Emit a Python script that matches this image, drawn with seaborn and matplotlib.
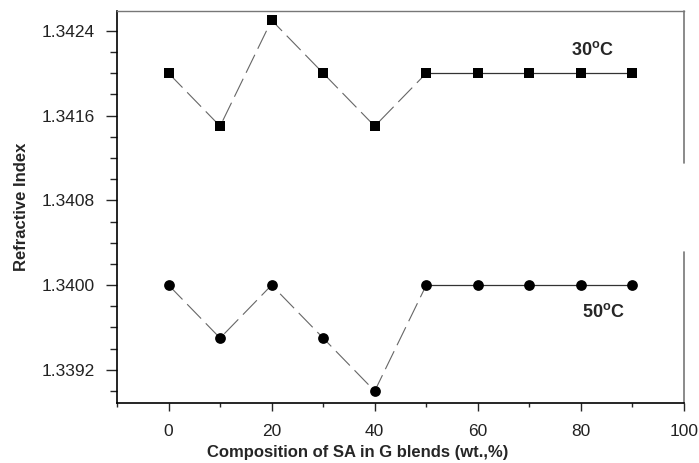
#!/usr/bin/env python3
"""
Script to plot refractive index of SA/G blends at two temperatures
"""

import numpy as np
import pandas as pd
import matplotlib
matplotlib.use('Agg')
import matplotlib.pyplot as plt
from matplotlib.ticker import MultipleLocator
import seaborn as sns

# Chart data
composition = [0, 10, 20, 30, 40, 50, 60, 70, 80, 90]
ri_30 = [1.3420, 1.3415, 1.3425, 1.3420, 1.3415, 1.3420, 1.3420, 1.3420, 1.3420, 1.3420]
ri_50 = [1.3400, 1.3395, 1.3400, 1.3395, 1.3390, 1.3400, 1.3400, 1.3400, 1.3400, 1.3400]
temperatures = ['30', '50']
y_ticks = [1.3392, 1.3400, 1.3408, 1.3416, 1.3424]
x_ticks = [0, 20, 40, 60, 80, 100]

# Build long-form table for seaborn
df = pd.concat([
    pd.DataFrame({'composition': composition, 'ri': ri_30, 'temp': '30'}),
    pd.DataFrame({'composition': composition, 'ri': ri_50, 'temp': '50'}),
], ignore_index=True)

sns.set_style('ticks')
plt.rcParams['font.family'] = ['Liberation Sans', 'DejaVu Sans']
plt.rcParams['mathtext.fontset'] = 'custom'
plt.rcParams['mathtext.rm'] = 'Liberation Sans'
plt.rcParams['mathtext.bf'] = 'Liberation Sans:bold'

fig = plt.figure(figsize=(6.99, 4.63), dpi=100)
ax = fig.add_axes([0.1674, 0.1302, 0.8111, 0.8467])

markers = {'30': 's', '50': 'o'}
msizes = {'30': 42, '50': 60}

for t in temperatures:
    sub = df[df['temp'] == t]
    # first part of the curve is drawn with a broken line
    sns.lineplot(data=sub[sub['composition'] <= 50], x='composition', y='ri',
                 color='#666666', lw=0.8, ax=ax, legend=False,
                 linestyle=(0, (18, 6)))
    # plateau part is a solid line
    sns.lineplot(data=sub[sub['composition'] >= 50], x='composition', y='ri',
                 color='#333333', lw=0.9, ax=ax, legend=False)
    sns.scatterplot(data=sub, x='composition', y='ri', marker=markers[t],
                    s=msizes[t], color='black', edgecolor='black',
                    linewidth=0, ax=ax, legend=False, zorder=5)

# Axis limits and ticks
ax.set_xlim(-10, 100)
ax.set_ylim(1.33889, 1.34259)
ax.set_xticks(x_ticks)
ax.xaxis.set_minor_locator(MultipleLocator(10))
ax.set_yticks(y_ticks)
ax.set_yticklabels([f'{v:.4f}' for v in y_ticks])
ax.yaxis.set_minor_locator(MultipleLocator(0.0002))
ax.tick_params(axis='y', which='major', length=8, width=1, pad=8, labelsize=12.5,
               labelcolor='#222222')
ax.tick_params(axis='y', which='minor', length=5, width=1)
ax.tick_params(axis='x', which='major', length=6, width=1, pad=9, labelsize=12.5,
               labelcolor='#222222')
ax.tick_params(axis='x', which='minor', length=3, width=1)

# Spines: left/bottom black, top grey, right broken grey
for side in ['left', 'bottom']:
    ax.spines[side].set_color('black')
    ax.spines[side].set_linewidth(1.2)
ax.spines['top'].set_color('#777777')
ax.spines['top'].set_linewidth(1.0)
ax.spines['right'].set_visible(False)
ax.axvline(100, ymin=0.611, ymax=1.0, color='#777777', lw=1.2, clip_on=False)
ax.axvline(100, ymin=0.0, ymax=0.384, color='#777777', lw=1.2, clip_on=False)

# Labels
ax.set_xlabel('')
ax.set_ylabel('Refractive Index', fontsize=12, fontweight='bold')
ax.yaxis.set_label_coords(-0.156, 0.5)
fig.text(0.511, 0.022, 'Composition of SA in G blends (wt.,%)', ha='center',
         va='center', fontsize=12, fontweight='bold')

ax.text(82.2, 1.34222, r'30$^\mathregular{o}$C', ha='center', va='center',
        fontsize=13, fontweight='bold')
ax.text(84.3, 1.33975, r'50$^\mathregular{o}$C', ha='center', va='center',
        fontsize=13, fontweight='bold')

fig.savefig('out.png', dpi=100)
